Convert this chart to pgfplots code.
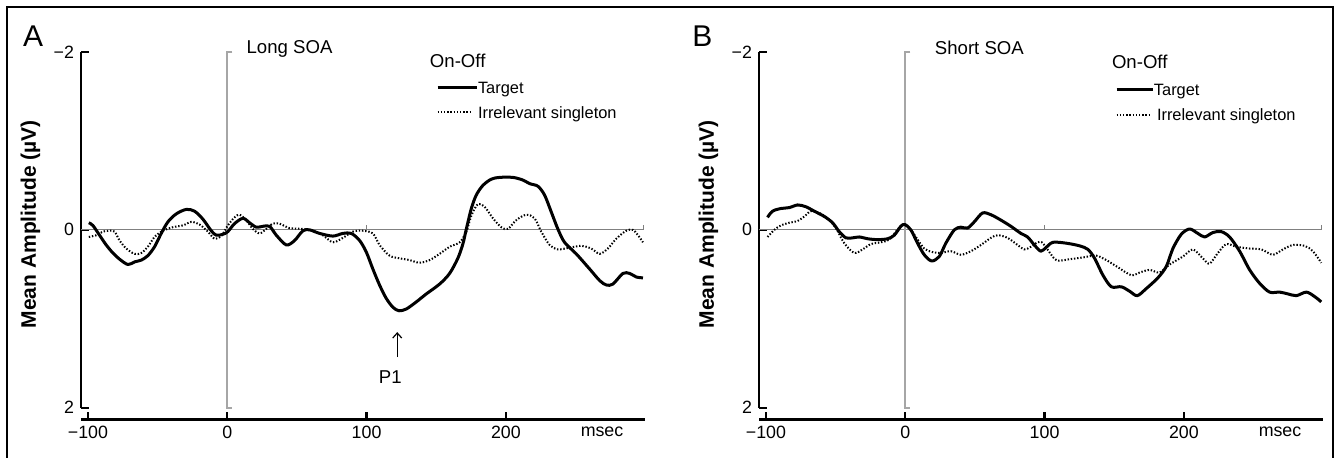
\documentclass[border=0pt]{standalone}
\usepackage{fontspec}
\setmainfont{Liberation Sans}
\usepackage{pgfplots}
\pgfplotsset{compat=1.18}
\usetikzlibrary{arrows.meta}

\pgfplotsset{
  erp/.style={
    scale only axis, width=282.1bp, height=177.85bp,
    xmin=-105, xmax=300, ymin=-2, ymax=2, y dir=reverse,
    axis x line=bottom, axis y line=left,
    axis line style={-, line width=1.4bp, black},
    axis x line shift=5.9bp,
    xtick={-100,0,100,200}, xticklabels={−100,0,100,200},
    ytick={-2,0,2}, yticklabels={−2,0,2},
    extra x ticks={269}, extra x tick labels={msec},
    extra x tick style={major tick length=0pt},
    tick align=inside, major tick length=4bp,
    tick style={line width=1.2bp, black},
    tick label style={font=\fontsize{8.9bp}{10bp}\selectfont},
    ylabel={\bfseries Mean Amplitude (µV)},
    ylabel style={font=\fontsize{10.5bp}{12bp}\selectfont,
      at={(axis description cs:-0.0895,0.516)}, anchor=center},
    clip=false,
  },
}
\tikzset{
  target/.style={black, line width=1.5bp, line join=round},
  irrel/.style={black, line width=1bp, dash pattern=on 0.7bp off 0.9bp},
  zeroline/.style={black!50, line width=0.6bp},
  vline/.style={black!35, line width=0.8bp},
}
\newcommand\legfont{\fontsize{8.2bp}{10bp}\selectfont}
\newcommand\ttlfont{\fontsize{9.3bp}{11bp}\selectfont}

\begin{document}
\begin{tikzpicture}

% panel A: long SOA
\begin{axis}[erp, at={(40.5bp,-26bp)}, anchor=north west]
\addplot[zeroline] coordinates {(-105,0)(299,0)};
\addplot[zeroline] coordinates {(299,0)(299,-0.06)};
\addplot[zeroline] coordinates {(100,0)(100,-0.06)};
\addplot[vline] coordinates {(3.6,-2)(0,-2)(0,2)(3.6,2)};

\addplot[target, smooth] coordinates {
(-99.4,-0.08)(-96.5,-0.05)(-91.7,0.06)(-86.9,0.17)(-82.1,0.26)(-77.3,0.33)(-71.3,0.39)(-66.5,0.36)
(-61.7,0.34)(-57,0.29)(-52.2,0.19)(-47.4,0.04)(-42.6,-0.09)(-36.6,-0.18)(-29.4,-0.23)(-23.5,-0.21)
(-17.5,-0.12)(-11.5,0.01)(-7.9,0.06)(-3.2,0.05)(0.4,0.02)(5.2,-0.07)(11.2,-0.13)(16,-0.08)
(20.8,-0.03)(25.6,-0.04)(30.4,-0.04)(35.2,0.06)(42.4,0.17)(48.3,0.12)(54.3,0.01)(59.1,0)
(66.3,0.04)(75.8,0.07)(83,0.04)(89,0.04)(95,0.12)(99.8,0.25)(104.5,0.44)(109.3,0.62)
(114.1,0.77)(118.9,0.87)(123.2,0.91)(128.5,0.89)(135.7,0.81)(142.9,0.72)(152.4,0.61)(159.6,0.49)
(165.5,0.32)(169.1,0.16)(171.6,-0.01)(175.2,-0.24)(178.7,-0.39)(183.5,-0.5)(189.5,-0.57)(195.5,-0.59)
(205,-0.59)(212.2,-0.56)(217,-0.52)(223,-0.49)(227.8,-0.39)(232.6,-0.2)(237.3,-0.01)(242.1,0.14)
(250.5,0.27)(260.1,0.44)(267.3,0.57)(272.1,0.62)(276.8,0.61)(284,0.49)(288.8,0.49)(293.6,0.53)(298.4,0.54)
};
\addplot[irrel, smooth] coordinates {
(-99.4,0.08)(-94,0.06)(-89.3,0.02)(-84.5,0.01)(-80.9,0.02)(-77.3,0.12)(-72.5,0.21)(-66.5,0.27)
(-61.7,0.26)(-57,0.19)(-52.2,0.08)(-46.2,0.01)(-39,-0.03)(-31.9,-0.05)(-25.8,-0.09)(-19.9,-0.06)
(-13.9,0.02)(-9.1,0.1)(-4.3,0.07)(0.4,-0.05)(5.2,-0.14)(8.8,-0.17)(13.6,-0.11)(18.4,-0.01)
(23.2,0.04)(28,-0.01)(32.7,-0.07)(37.5,-0.07)(44.7,-0.02)(54.3,-0.01)(61.5,0.01)(68.6,0.06)
(75.8,0.14)(83,0.09)(90.2,0.02)(97.3,0.01)(104.5,0.04)(109.3,0.17)(116.5,0.29)(123.7,0.32)
(130.9,0.34)(138,0.37)(145.2,0.34)(152.4,0.27)(159.6,0.19)(166.8,0.14)(171.6,0.02)(175.2,-0.16)
(179.9,-0.29)(184.7,-0.26)(190.7,-0.13)(196.7,-0.03)(201.4,-0.01)(207.5,-0.11)(214.6,-0.17)(220.6,-0.13)
(225.4,0.02)(231.4,0.17)(237.3,0.22)(245.7,0.2)(254.1,0.18)(261.3,0.21)(267.3,0.27)(273.2,0.21)
(279.2,0.1)(286.4,0.01)(291.2,0)(294.8,0.06)(298.4,0.14)
};

\node[anchor=base west, inner sep=0pt, font=\ttlfont] at (axis cs:13.6,-1.98) {Long SOA};
\node[anchor=base west, inner sep=0pt, font=\ttlfont] at (axis cs:145.2,-1.83) {On-Off};
\draw[target] (axis cs:151,-1.60) -- (axis cs:179,-1.60);
\node[anchor=base west, inner sep=0pt, font=\legfont] at (axis cs:179.7,-1.53) {Target};
\draw[irrel] (axis cs:151,-1.32) -- (axis cs:175.4,-1.32);
\node[anchor=base west, inner sep=0pt, font=\legfont] at (axis cs:179.7,-1.25) {Irrelevant singleton};
\draw[-{Straight Barb[length=2.5bp,width=4.5bp]}, line width=0.6bp] (axis cs:122,1.43) -- (axis cs:122,1.15);
\node[anchor=base, inner sep=0pt, font=\ttlfont] at (axis cs:117,1.73) {P1};
\end{axis}

% panel B: short SOA
\begin{axis}[erp, at={(379.5bp,-26bp)}, anchor=north west]
\addplot[zeroline] coordinates {(-105,0)(299,0)};
\addplot[zeroline] coordinates {(299,0)(299,-0.06)};
\addplot[zeroline] coordinates {(100,0)(100,-0.06)};
\addplot[vline] coordinates {(3.6,-2)(0,-2)(0,2)(3.6,2)};

\addplot[target, smooth] coordinates {
(-98.9,-0.14)(-95.3,-0.21)(-89.3,-0.24)(-83.3,-0.25)(-77.3,-0.28)(-71.4,-0.26)(-65.3,-0.21)(-58.1,-0.15)
(-52.2,-0.08)(-47.4,0.02)(-42.6,0.09)(-37.8,0.09)(-33,0.08)(-27,0.1)(-19.9,0.11)(-12.7,0.1)
(-7.9,0.06)(-3.2,-0.04)(-0.3,-0.06)(4,0)(8.8,0.15)(13.6,0.28)(18.9,0.35)(24.4,0.3)
(29.1,0.15)(35.2,0)(39.9,-0.03)(44.7,-0.02)(49.5,-0.09)(55.5,-0.19)(61.5,-0.17)(68.6,-0.11)
(75.8,-0.04)(83,0.04)(87.8,0.08)(92.6,0.17)(97.3,0.24)(100.9,0.2)(106,0.14)(115.6,0.15)
(125.2,0.18)(131.1,0.22)(135.9,0.32)(141.9,0.51)(147.9,0.64)(155.1,0.64)(161,0.69)(166.5,0.74)
(173,0.66)(181.3,0.54)(187.4,0.41)(192.1,0.21)(198.1,0.05)(204.1,-0.01)(210,0.04)(214.9,0.08)
(220.8,0.03)(226.8,0.02)(232.8,0.08)(240,0.24)(247.2,0.45)(254.3,0.6)(261.5,0.7)(268.7,0.7)
(274.6,0.72)(280.7,0.74)(287.9,0.7)(293.8,0.75)(298.6,0.81)
};
\addplot[irrel, smooth] coordinates {
(-98.9,0.08)(-94,0)(-89.3,-0.05)(-83.3,-0.08)(-77.3,-0.1)(-72.5,-0.15)(-67.8,-0.21)(-61.7,-0.19)
(-55.8,-0.13)(-49.8,-0.02)(-43.8,0.15)(-36.6,0.26)(-30.7,0.22)(-24.7,0.16)(-17.5,0.14)(-11.5,0.11)
(-6.7,0.02)(-1.9,-0.06)(2.9,-0.02)(7.6,0.08)(13.6,0.21)(19.6,0.25)(25.6,0.26)(32.7,0.24)
(39.9,0.28)(47.1,0.24)(54.3,0.17)(61.5,0.09)(66.3,0.06)(73.4,0.09)(80.6,0.17)(85.4,0.22)
(90.2,0.19)(95,0.14)(98,0.14)(101.2,0.2)(108.4,0.34)(118,0.33)(127.5,0.31)(137.1,0.29)
(144.3,0.34)(152.6,0.42)(162.2,0.51)(168.2,0.48)(175.4,0.45)(182.6,0.48)(189.7,0.39)(199.3,0.3)
(206.5,0.22)(213.6,0.32)(218.4,0.38)(224.4,0.26)(230.4,0.16)(237.6,0.19)(247.2,0.21)(255.6,0.22)
(263.9,0.28)(271.1,0.22)(278.3,0.17)(286.7,0.18)(292.6,0.24)(298.6,0.37)
};

\node[anchor=base west, inner sep=0pt, font=\ttlfont] at (axis cs:21,-1.97) {Short SOA};
\node[anchor=base west, inner sep=0pt, font=\ttlfont] at (axis cs:148.1,-1.82) {On-Off};
\draw[target] (axis cs:151.7,-1.58) -- (axis cs:177.5,-1.58);
\node[anchor=base west, inner sep=0pt, font=\legfont] at (axis cs:178.2,-1.51) {Target};
\draw[irrel] (axis cs:151.7,-1.29) -- (axis cs:175.4,-1.29);
\node[anchor=base west, inner sep=0pt, font=\legfont] at (axis cs:180.4,-1.23) {Irrelevant singleton};
\end{axis}

% frame and panel letters
\draw[line width=1bp] (3.65bp,-229bp) -- (3.65bp,-3.65bp) -- (666.25bp,-3.65bp) -- (666.25bp,-229bp);
\node[anchor=base west, inner sep=0pt, font=\fontsize{15bp}{18bp}\selectfont] at (11.35bp,-23.4bp) {A};
\node[anchor=base west, inner sep=0pt, font=\fontsize{15bp}{18bp}\selectfont] at (346bp,-23bp) {B};

\pgfresetboundingbox
\useasboundingbox (0,0) rectangle (667bp,-229bp);
\end{tikzpicture}
\end{document}
